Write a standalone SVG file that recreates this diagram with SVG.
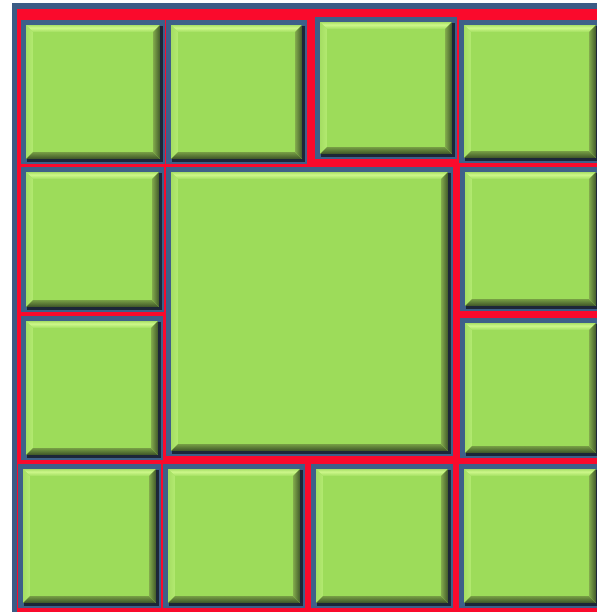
<svg xmlns="http://www.w3.org/2000/svg" width="597" height="612" viewBox="0 0 597 612">
<defs>
<linearGradient id="gTop" x1="0" y1="0" x2="0" y2="1"><stop offset="0" stop-color="#a3dc62"/><stop offset="0.45" stop-color="#cdf78a"/><stop offset="1" stop-color="#a6e164"/></linearGradient>
<linearGradient id="gLeft" x1="0" y1="0" x2="1" y2="0"><stop offset="0" stop-color="#a4dd62"/><stop offset="1" stop-color="#b2e970"/></linearGradient>
<linearGradient id="gRight" x1="0" y1="0" x2="1" y2="0"><stop offset="0" stop-color="#86b04e"/><stop offset="1" stop-color="#455e2c"/></linearGradient>
<linearGradient id="gBottom" x1="0" y1="0" x2="0" y2="1"><stop offset="0" stop-color="#7aa346"/><stop offset="1" stop-color="#405729"/></linearGradient>
<filter id="blur" x="-5%" y="-5%" width="110%" height="110%"><feGaussianBlur stdDeviation="0.5"/></filter>
</defs>
<style>
.frame{fill:#3e6089}
.shadow{fill:#1c2738;filter:url(#blur)}
.face{fill:#9ddc5a}
.bt{fill:url(#gTop)}
.bl{fill:url(#gLeft)}
.br{fill:url(#gRight)}
.bb{fill:url(#gBottom)}
</style>
<rect x="0" y="0" width="597" height="612" fill="#ffffff"/>
<rect id="outer" x="12" y="3" width="585" height="609" fill="#3b5b85"/>
<rect id="red" x="17" y="9" width="580" height="603" fill="#fa0a2c"/>
<g id="connectors"/>

<g id="tile1">
<rect class="frame" x="21" y="20" width="144" height="144"/>
<rect class="shadow" x="27" y="26" width="136" height="136"/>
<rect class="face" x="26" y="25" width="134" height="134"/>
<polygon class="bt" points="26,25 160,25 153,32 33,32"/>
<polygon class="bl" points="26,25 33,32 33,152 26,159"/>
<polygon class="br" points="160,25 160,159 153,152 153,32"/>
<polygon class="bb" points="26,159 33,152 153,152 160,159"/>
</g>

<g id="tile2">
<rect class="frame" x="166" y="20" width="141" height="144"/>
<rect class="shadow" x="172" y="26" width="133" height="136"/>
<rect class="face" x="171" y="25" width="131" height="134"/>
<polygon class="bt" points="171,25 302,25 295,32 178,32"/>
<polygon class="bl" points="171,25 178,32 178,152 171,159"/>
<polygon class="br" points="302,25 302,159 295,152 295,32"/>
<polygon class="bb" points="171,159 178,152 295,152 302,159"/>
</g>

<g id="tile3">
<rect class="frame" x="315" y="17" width="142" height="142"/>
<rect class="shadow" x="321" y="23" width="134" height="134"/>
<rect class="face" x="320" y="22" width="132" height="132"/>
<polygon class="bt" points="320,22 452,22 445,29 327,29"/>
<polygon class="bl" points="320,22 327,29 327,147 320,154"/>
<polygon class="br" points="452,22 452,154 445,147 445,29"/>
<polygon class="bb" points="320,154 327,147 445,147 452,154"/>
</g>

<g id="tile4">
<rect class="frame" x="459" y="20" width="142" height="143"/>
<rect class="shadow" x="465" y="26" width="134" height="135"/>
<rect class="face" x="464" y="25" width="132" height="133"/>
<polygon class="bt" points="464,25 596,25 589,32 471,32"/>
<polygon class="bl" points="464,25 471,32 471,151 464,158"/>
<polygon class="br" points="596,25 596,158 589,151 589,32"/>
<polygon class="bb" points="464,158 471,151 589,151 596,158"/>
</g>

<g id="tile5">
<rect class="frame" x="21" y="167" width="143" height="145"/>
<rect class="shadow" x="27" y="173" width="135" height="137"/>
<rect class="face" x="26" y="172" width="133" height="135"/>
<polygon class="bt" points="26,172 159,172 152,179 33,179"/>
<polygon class="bl" points="26,172 33,179 33,300 26,307"/>
<polygon class="br" points="159,172 159,307 152,300 152,179"/>
<polygon class="bb" points="26,307 33,300 152,300 159,307"/>
</g>

<g id="tileBig">
<rect class="frame" x="166" y="167" width="287" height="289"/>
<rect class="shadow" x="172" y="173" width="279" height="281"/>
<rect class="face" x="171" y="172" width="277" height="279"/>
<polygon class="bt" points="171,172 448,172 441,179 178,179"/>
<polygon class="bl" points="171,172 178,179 178,444 171,451"/>
<polygon class="br" points="448,172 448,451 441,444 441,179"/>
<polygon class="bb" points="171,451 178,444 441,444 448,451"/>
</g>

<g id="tile7">
<rect class="frame" x="460" y="167" width="141" height="144"/>
<rect class="shadow" x="466" y="173" width="133" height="136"/>
<rect class="face" x="465" y="172" width="131" height="134"/>
<polygon class="bt" points="465,172 596,172 589,179 472,179"/>
<polygon class="bl" points="465,172 472,179 472,299 465,306"/>
<polygon class="br" points="596,172 596,306 589,299 589,179"/>
<polygon class="bb" points="465,306 472,299 589,299 596,306"/>
</g>

<g id="tile8">
<rect class="frame" x="21" y="316" width="142" height="144"/>
<rect class="shadow" x="27" y="322" width="134" height="136"/>
<rect class="face" x="26" y="321" width="132" height="134"/>
<polygon class="bt" points="26,321 158,321 151,328 33,328"/>
<polygon class="bl" points="26,321 33,328 33,448 26,455"/>
<polygon class="br" points="158,321 158,455 151,448 151,328"/>
<polygon class="bb" points="26,455 33,448 151,448 158,455"/>
</g>

<g id="tile9">
<rect class="frame" x="460" y="318" width="141" height="140"/>
<rect class="shadow" x="466" y="324" width="133" height="132"/>
<rect class="face" x="465" y="323" width="131" height="130"/>
<polygon class="bt" points="465,323 596,323 589,330 472,330"/>
<polygon class="bl" points="465,323 472,330 472,446 465,453"/>
<polygon class="br" points="596,323 596,453 589,446 589,330"/>
<polygon class="bb" points="465,453 472,446 589,446 596,453"/>
</g>

<g id="tile10">
<rect class="frame" x="18" y="464" width="143" height="144"/>
<rect class="shadow" x="24" y="470" width="135" height="136"/>
<rect class="face" x="23" y="469" width="133" height="134"/>
<polygon class="bt" points="23,469 156,469 149,476 30,476"/>
<polygon class="bl" points="23,469 30,476 30,596 23,603"/>
<polygon class="br" points="156,469 156,603 149,596 149,476"/>
<polygon class="bb" points="23,603 30,596 149,596 156,603"/>
</g>

<g id="tile11">
<rect class="frame" x="163" y="464" width="142" height="144"/>
<rect class="shadow" x="169" y="470" width="134" height="136"/>
<rect class="face" x="168" y="469" width="132" height="134"/>
<polygon class="bt" points="168,469 300,469 293,476 175,476"/>
<polygon class="bl" points="168,469 175,476 175,596 168,603"/>
<polygon class="br" points="300,469 300,603 293,596 293,476"/>
<polygon class="bb" points="168,603 175,596 293,596 300,603"/>
</g>

<g id="tile12">
<rect class="frame" x="311" y="464" width="142" height="144"/>
<rect class="shadow" x="317" y="470" width="134" height="136"/>
<rect class="face" x="316" y="469" width="132" height="134"/>
<polygon class="bt" points="316,469 448,469 441,476 323,476"/>
<polygon class="bl" points="316,469 323,476 323,596 316,603"/>
<polygon class="br" points="448,469 448,603 441,596 441,476"/>
<polygon class="bb" points="316,603 323,596 441,596 448,603"/>
</g>

<g id="tile13">
<rect class="frame" x="459" y="464" width="142" height="144"/>
<rect class="shadow" x="465" y="470" width="134" height="136"/>
<rect class="face" x="464" y="469" width="132" height="134"/>
<polygon class="bt" points="464,469 596,469 589,476 471,476"/>
<polygon class="bl" points="464,469 471,476 471,596 464,603"/>
<polygon class="br" points="596,469 596,603 589,596 589,476"/>
<polygon class="bb" points="464,603 471,596 589,596 596,603"/>
</g>
</svg>
